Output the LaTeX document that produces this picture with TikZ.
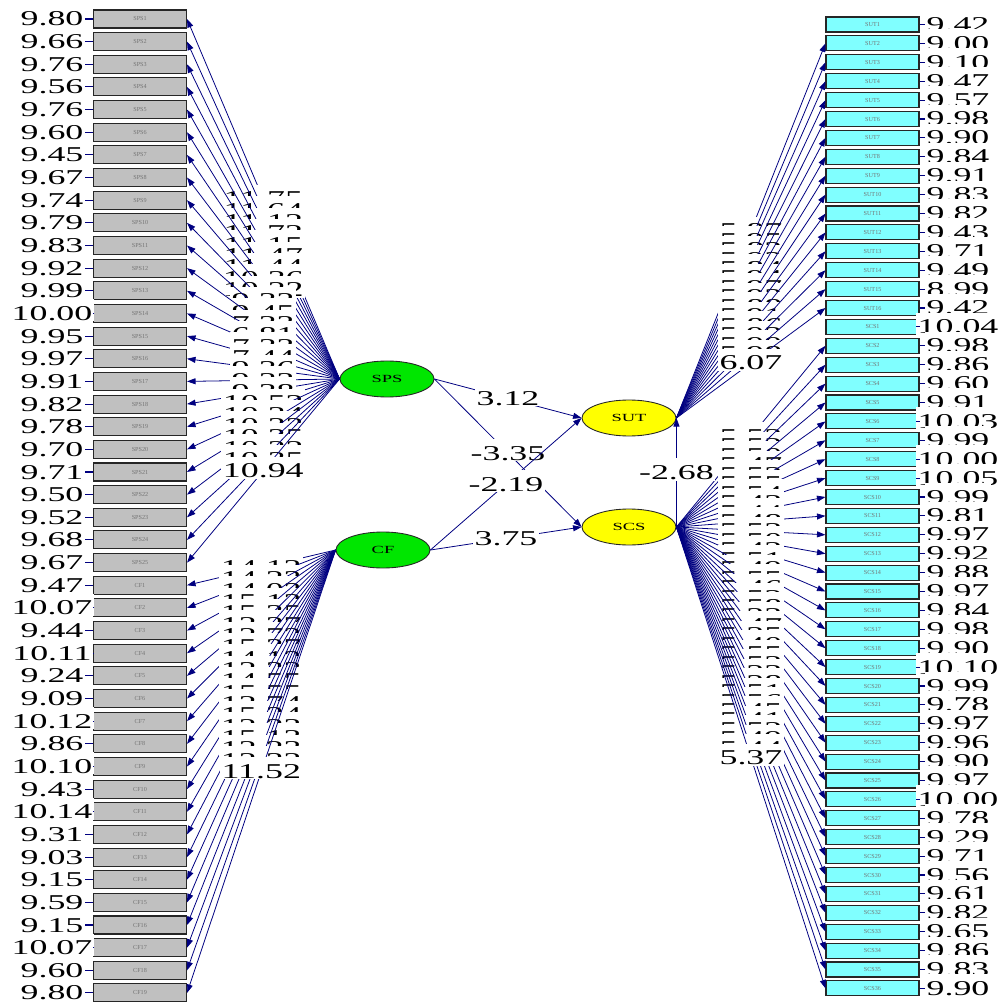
\documentclass[tikz,border=0pt]{standalone}
\usepackage{fontspec}
\setmainfont{Liberation Serif}
\newfontfamily\numfont[FakeStretch=1.7]{Liberation Serif}
\usetikzlibrary{arrows.meta,shapes.geometric}
\definecolor{boxgray}{RGB}{192,192,192}
\definecolor{boxcyan}{RGB}{128,255,255}
\definecolor{latgreen}{RGB}{0,230,0}
\definecolor{latyellow}{RGB}{255,255,0}
\definecolor{pathblue}{RGB}{0,0,128}
\tikzset{
  lbox/.style={rectangle,draw=black!85,line width=0.6pt,fill=boxgray,minimum width=18.6mm,minimum height=3.6mm,inner sep=0pt,text=black!55,font=\fontsize{3.5}{4}\selectfont},
  rbox/.style={lbox,fill=boxcyan,minimum height=3mm},
  errlab/.style={fill=white,inner xsep=0.3mm,inner ysep=0.2mm,text height=11.4pt,text depth=0pt,anchor=base,font=\numfont\fontsize{12}{12}\selectfont},
  tlab/.style={errlab,anchor=base,yshift=-1.4mm},
  latent/.style={ellipse,draw=black!85,line width=0.5pt,minimum width=18.8mm,minimum height=7.2mm,inner sep=0pt,font=\numfont\fontsize{6.2}{7}\selectfont},
  load/.style={draw=pathblue,line width=0.45pt,-{Triangle[length=1.7mm,width=1.2mm]}},
  errline/.style={draw=pathblue,line width=0.6pt}
}
\begin{document}
\begin{tikzpicture}[x=0.2mm,y=-0.2mm]
  \useasboundingbox (0,0) rectangle (1002,1005);

  \node[latent,fill=latgreen] (SPS) at (387,379) {SPS};
  \node[latent,fill=latgreen] (CF) at (383,550) {CF};
  \node[latent,fill=latyellow] (SUT) at (629,418) {SUT};
  \node[latent,fill=latyellow] (SCS) at (629,527) {SCS};

  \foreach \v [count=\i] in {9.80,9.66,9.76,9.56,9.76,9.60,9.45,9.67,9.74,9.79,9.83,9.92,9.99,10.00,9.95,9.97,9.91,9.82,9.78,9.70,9.71,9.50,9.52,9.68,9.67} {
    \node[lbox] (sps\i) at (140,{19+(\i-1)*22.65}) {SPS\i};
    \node[errlab] (esps\i) at (52,{26+(\i-1)*22.65}) {\v};
    \draw[errline] (esps\i.east |- sps\i.west) -- (sps\i.west);
  }
  \foreach \v [count=\i] in {9.47,10.07,9.44,10.11,9.24,9.09,10.12,9.86,10.10,9.43,10.14,9.31,9.03,9.15,9.59,9.15,10.07,9.60,9.80} {
    \node[lbox] (cf\i) at (140,{19+(\i+24)*22.65}) {CF\i};
    \node[errlab] (ecf\i) at (52,{26+(\i+24)*22.65}) {\v};
    \draw[errline] (ecf\i.east |- cf\i.west) -- (cf\i.west);
  }
  \foreach \v [count=\i] in {9.42,9.00,9.10,9.47,9.57,9.98,9.90,9.84,9.91,9.83,9.82,9.43,9.71,9.49,8.99,9.42} {
    \node[rbox] (sut\i) at (872.5,{24.5+(\i-1)*18.9}) {SUT\i};
    \node[errlab] (esut\i) at (958,{31.5+(\i-1)*18.9}) {\v};
    \draw[errline] (sut\i.east) -- (esut\i.west |- sut\i.east);
  }
  \foreach \v [count=\i] in {10.04,9.98,9.86,9.60,9.91,10.03,9.99,10.00,10.05,9.99,9.81,9.97,9.92,9.88,9.97,9.84,9.98,9.90,10.10,9.99,9.78,9.97,9.96,9.90,9.97,10.00,9.78,9.29,9.71,9.56,9.61,9.82,9.65,9.86,9.83,9.90} {
    \node[rbox] (scs\i) at (872.5,{24.5+(\i+15)*18.9}) {SCS\i};
    \node[errlab] (escs\i) at (958,{31.5+(\i+15)*18.9}) {\v};
    \draw[errline] (scs\i.east) -- (escs\i.west |- scs\i.east);
  }

  \foreach \t [count=\i] in {11.75,11.64,11.12,11.72,11.15,11.47,11.44,10.36,10.22,9.32,9.45,7.33,6.81,7.33,7.44,9.36,9.33,9.38,10.52,10.34,10.33,10.35,10.22,10.35,10.94}
    \draw[load] (SPS.west) -- node[tlab] {\t} (sps\i.east);
  \foreach \t [count=\i] in {14.13,14.23,14.03,15.13,15.35,12.27,12.72,15.37,14.12,12.33,14.55,15.55,12.74,15.34,12.23,15.13,12.23,12.32,11.52}
    \draw[load] (CF.west) -- node[tlab] {\t} (cf\i.east);
  \foreach \t [count=\i from 2] in {5.87,5.95,5.82,5.93,5.84,5.94,5.97,5.93,5.88,5.91,5.86,5.93,5.99,5.98,6.07}
    \draw[load] (SUT.east) -- node[tlab] {\t} (sut\i.west);
  \foreach \t [count=\i from 2] in {5.53,5.52,5.50,5.47,5.53,5.55,5.54,5.43,5.44,5.48,5.53,5.50,5.42,5.51,5.49,5.55,5.46,5.53,5.58,5.33,5.47,5.35,5.40,5.55,5.53,5.33,5.38,5.51,5.56,5.45,5.41,5.52,5.49,5.44,5.37}
    \draw[load] (SCS.east) -- node[tlab] {\t} (scs\i.west);

  \draw[load] (SPS.east) -- node[tlab] {3.12} (SUT.west);
  \draw[load] (SPS.east) -- node[tlab] {-3.35} (SCS.west);
  \draw[load] (CF.east) -- node[tlab] {-2.19} (SUT.west);
  \draw[load] (CF.east) -- node[tlab] {3.75} (SCS.west);
  \draw[load] (SCS.east) -- node[tlab] {-2.68} (SUT.east);
\end{tikzpicture}
\end{document}
